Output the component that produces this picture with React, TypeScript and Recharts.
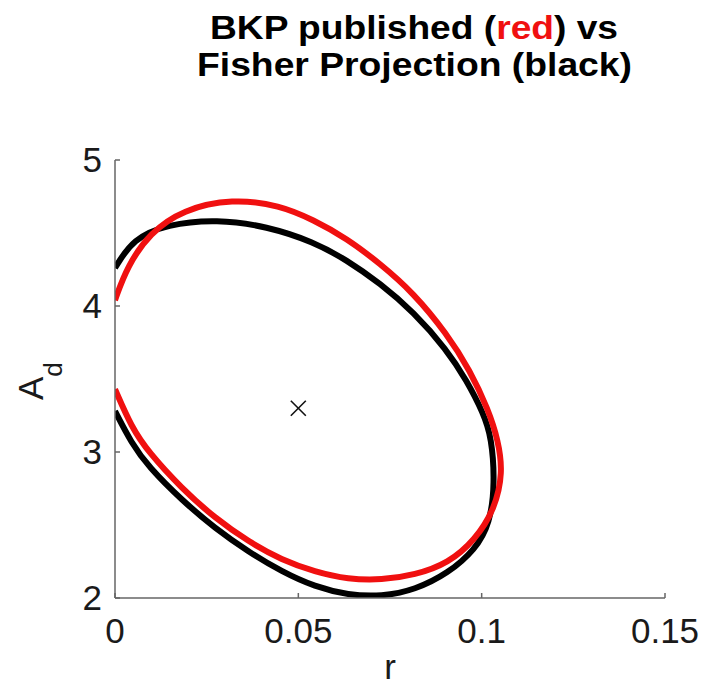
import React from "react";
import { ComposedChart, Line, Scatter, XAxis, YAxis } from "recharts";

// points, going clockwise from the left axis
const fisherRing = [
  { x: 0, y: 4.26 },
  { x: 0.0049, y: 4.46 },
  { x: 0.0142, y: 4.56 },
  { x: 0.0278, y: 4.595 },
  { x: 0.0415, y: 4.545 },
  { x: 0.0541, y: 4.44 },
  { x: 0.0632, y: 4.315 },
  { x: 0.0723, y: 4.155 },
  { x: 0.0814, y: 3.96 },
  { x: 0.0905, y: 3.7 },
  { x: 0.0959, y: 3.49 },
  { x: 0.1005, y: 3.265 },
  { x: 0.1027, y: 3.1 },
  { x: 0.1036, y: 2.79 },
  { x: 0.1023, y: 2.51 },
  { x: 0.0982, y: 2.33 },
  { x: 0.0909, y: 2.17 },
  { x: 0.0818, y: 2.055 },
  { x: 0.0727, y: 2.01 },
  { x: 0.0636, y: 2.02 },
  { x: 0.0545, y: 2.077 },
  { x: 0.0455, y: 2.18 },
  { x: 0.0364, y: 2.317 },
  { x: 0.0273, y: 2.477 },
  { x: 0.0182, y: 2.67 },
  { x: 0.0091, y: 2.9 },
  { x: 0.0045, y: 3.06 },
  { x: 0, y: 3.28 },
];

const bkpRing = [
  { x: 0, y: 4.04 },
  { x: 0.0033, y: 4.27 },
  { x: 0.0095, y: 4.5 },
  { x: 0.0185, y: 4.66 },
  { x: 0.032, y: 4.735 },
  { x: 0.045, y: 4.69 },
  { x: 0.0541, y: 4.59 },
  { x: 0.0632, y: 4.464 },
  { x: 0.0723, y: 4.29 },
  { x: 0.0814, y: 4.09 },
  { x: 0.0905, y: 3.81 },
  { x: 0.0968, y: 3.56 },
  { x: 0.1018, y: 3.29 },
  { x: 0.1045, y: 3.08 },
  { x: 0.1058, y: 2.86 },
  { x: 0.1036, y: 2.61 },
  { x: 0.0982, y: 2.397 },
  { x: 0.0909, y: 2.238 },
  { x: 0.0818, y: 2.157 },
  { x: 0.0727, y: 2.123 },
  { x: 0.0636, y: 2.128 },
  { x: 0.0545, y: 2.18 },
  { x: 0.0455, y: 2.26 },
  { x: 0.0364, y: 2.386 },
  { x: 0.0273, y: 2.546 },
  { x: 0.0182, y: 2.75 },
  { x: 0.0091, y: 3.0 },
  { x: 0.0045, y: 3.17 },
  { x: 0, y: 3.43 },
];

const centre = [{ x: 0.05, y: 3.3 }];

const xTicks = [0, 0.05, 0.1, 0.15];
const yTicks = [2, 3, 4, 5];

const font = "'Liberation Sans', Arial, Helvetica, sans-serif";
const tickStyle = { fontSize: 35, fill: "#1a1a1a", fontFamily: font };

const Cross = (props: any) => {
  const { cx, cy } = props;
  const s = 7.5;
  return (
    <g stroke="#111" strokeWidth={1.6}>
      <line x1={cx - s} y1={cy - s} x2={cx + s} y2={cy + s} />
      <line x1={cx - s} y1={cy + s} x2={cx + s} y2={cy - s} />
    </g>
  );
};

const YLabel = (props: any) => {
  const { viewBox } = props;
  const x = viewBox.x + 43;
  const y = viewBox.y + 240;
  return (
    <g transform={`translate(${x},${y}) rotate(-90)`}>
      <text x={0} y={0} fontSize={35} fill="#1a1a1a" fontFamily={font}>
        A
        <tspan dy={19} fontSize={26}>
          d
        </tspan>
      </text>
    </g>
  );
};

export default function App() {
  return (
    <div style={{ position: "absolute", left: 0, top: 0, width: 704, height: 686, background: "#fff" }}>
      <svg width={704} height={100} style={{ position: "absolute", left: 0, top: 0 }}>
        <text
          x={210}
          y={39}
          fontSize={33}
          fontWeight="bold"
          fontFamily={font}
          textLength={408}
          lengthAdjust="spacingAndGlyphs"
        >
          BKP published (<tspan fill="#f01010">red</tspan>) vs
        </text>
        <text
          x={197}
          y={76}
          fontSize={33}
          fontWeight="bold"
          fontFamily={font}
          textLength={435}
          lengthAdjust="spacingAndGlyphs"
        >
          Fisher Projection (black)
        </text>
      </svg>
      <ComposedChart width={704} height={686} margin={{ top: 160, right: 39, bottom: 0, left: 0 }}>
        <XAxis
          type="number"
          dataKey="x"
          domain={[0, 0.15]}
          ticks={xTicks}
          allowDataOverflow
          height={88}
          stroke="#666"
          strokeWidth={1.5}
          tickSize={-5}
          tickMargin={25}
          tick={tickStyle}
          label={{ value: "r", position: "insideBottom", offset: 7, fontSize: 35, fill: "#1a1a1a", fontFamily: font }}
        />
        <YAxis
          type="number"
          dataKey="y"
          domain={[2, 5]}
          ticks={yTicks}
          allowDataOverflow
          width={115}
          stroke="#666"
          strokeWidth={1.5}
          tickSize={-5}
          tickMargin={18}
          tick={tickStyle}
          label={<YLabel />}
        />
        <Line
          data={fisherRing}
          dataKey="y"
          type="basis"
          stroke="#000"
          strokeWidth={6}
          dot={false}
          activeDot={false}
          isAnimationActive={false}
        />
        <Line
          data={bkpRing}
          dataKey="y"
          type="basis"
          stroke="#f01010"
          strokeWidth={6}
          dot={false}
          activeDot={false}
          isAnimationActive={false}
        />
        <Scatter data={centre} dataKey="y" shape={<Cross />} isAnimationActive={false} />
      </ComposedChart>
    </div>
  );
}
